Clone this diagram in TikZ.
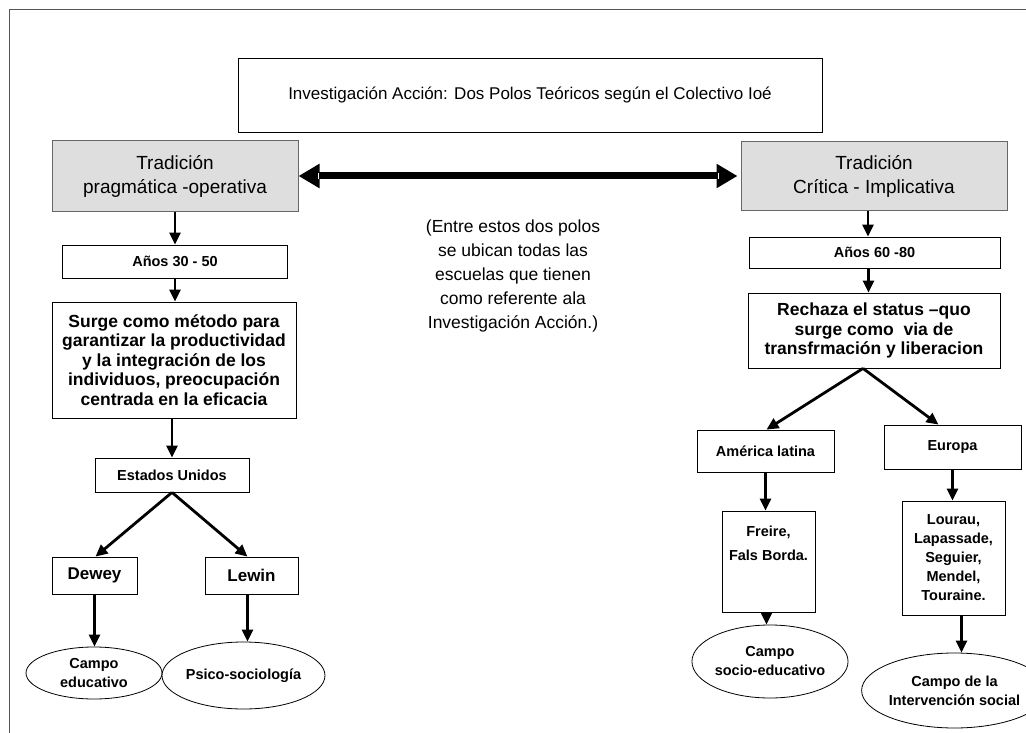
\documentclass[tikz,border=0pt]{standalone}
\usepackage{fontspec}
\setmainfont{Liberation Sans}
\usetikzlibrary{shapes.geometric,arrows.meta}
\definecolor{framegray}{HTML}{555555}
\definecolor{boxgray}{HTML}{DEDEDE}
\definecolor{boxedge}{HTML}{666666}
\tikzset{
  plainbox/.style={draw=black, line width=0.8pt, fill=white, align=center, inner sep=0pt},
  graybox/.style={draw=boxedge, line width=1pt, fill=boxgray, align=center, inner sep=0pt,
    font=\fontsize{19}{24}\selectfont},
  oval/.style={ellipse, draw=black, line width=0.8pt, fill=white, align=center, inner sep=0pt,
    font=\bfseries\fontsize{14.5}{19}\selectfont},
  lab/.style={font=\bfseries\fontsize{14.5}{19}\selectfont},
  big/.style={font=\bfseries\fontsize{17.5}{19.5}\selectfont},
  arr/.style={line width=2.8pt, -{Triangle[length=12pt,width=11pt]}},
  dbl/.style={line width=7pt, {Triangle[length=21pt,width=23pt]}-{Triangle[length=21pt,width=23pt]}}
}
\begin{document}
\begin{tikzpicture}[x=1pt,y=-1pt]
\useasboundingbox (0,0) rectangle (1026,733);
\fill[white] (0,0) rectangle (1026,733);
\draw[framegray, line width=1pt] (9,733) -- (9,10) -- (1026,10);

% title
\node[plainbox, minimum width=584pt, minimum height=74pt, font=\fontsize{17}{20}\selectfont]
  (title) at (530,95) {Investigación Acción: Dos Polos Teóricos según el Colectivo Ioé};

% left column
\node[graybox, minimum width=246pt, minimum height=70pt] (tl) at (175,176)
  {Tradición\\pragmática -operativa};
\node[plainbox, lab, minimum width=225pt, minimum height=33pt] (a1) at (175,261.5) {Años 30 - 50};
\node[plainbox, big, minimum width=244pt, minimum height=116pt] (s1) at (174,360)
  {Surge como método para\\garantizar la productividad\\y la integración de los\\individuos, preocupación\\centrada en la eficacia};
\node[plainbox, lab, minimum width=154pt, minimum height=34pt] (eu) at (172,475) {Estados Unidos};
\node[plainbox, font=\bfseries\fontsize{17}{20}\selectfont, minimum width=85pt, minimum height=37pt] (dw) at (94.5,575.5) {Dewey};
\node[plainbox, font=\bfseries\fontsize{17}{20}\selectfont, minimum width=93pt, minimum height=37pt] (lw) at (251.5,575.5) {Lewin};
\node[oval, minimum width=136pt, minimum height=52pt] (e1) at (94,673) {Campo\\educativo};
\node[oval, minimum width=145pt, minimum height=67pt] (e2) at (243.5,675.5) {Psico-sociología};

% right column
\node[graybox, minimum width=266pt, minimum height=69pt] (tr) at (874,176)
  {Tradición\\Crítica - Implicativa};
\node[plainbox, lab, minimum width=251pt, minimum height=31pt] (a2) at (874.5,252.5) {Años 60 -80};
\node[plainbox, big, minimum width=252pt, minimum height=75pt] (r1) at (874,330.5)
  {Rechaza el status –quo\\surge como\ \ via de\\transfrmación y liberacion};
\node[plainbox, lab, minimum width=137pt, minimum height=42pt] (al) at (765.5,451) {América latina};
\node[plainbox, lab, minimum width=137pt, minimum height=44pt] (eo) at (952.5,447) {Europa};
\node[plainbox, minimum width=93pt, minimum height=101pt] (fr) at (768.5,561.5) {};
\node[align=center, font=\bfseries\fontsize{14.5}{24}\selectfont] (frtext) at (768.5,543)
  {Freire,\\Fals Borda.};
\node[plainbox, lab, minimum width=103pt, minimum height=114pt] (lo) at (953.5,558)
  {Lourau,\\Lapassade,\\Seguier,\\Mendel,\\Touraine.};
\node[oval, minimum width=146pt, minimum height=73pt] (e3) at (770,661.5) {Campo\\socio-educativo};
\node[oval, minimum width=145pt, minimum height=75pt] (e4) at (954.5,690.5) {Campo de la\\Intervención social};

% middle note
\node[align=center, font=\fontsize{17.5}{24.2}\selectfont] (note) at (513,276)
  {(Entre estos dos polos\\se ubican todas las\\escuelas que tienen\\como referente ala\\Investigación Acción.)};

% double arrow
\draw[dbl] (tl.east) -- ([xshift=-3pt]tr.west);
\draw[white, line width=1.5pt] ([xshift=20pt,yshift=-3pt]tl.east) -- ([xshift=20pt,yshift=3pt]tl.east);
\draw[white, line width=1.5pt] ([xshift=-22pt,yshift=-3pt]tr.west) -- ([xshift=-22pt,yshift=3pt]tr.west);

% left arrows
\draw[arr] (tl.south) -- (tl.south |- a1.north);
\draw[arr] (a1.south) -- (a1.south |- s1.north);
\draw[arr] (s1.south -| eu.north) -- (eu.north);
\draw[arr] (eu.south) -- ([xshift=1pt]dw.north);
\draw[arr] (eu.south) -- ([xshift=-4pt]lw.north);
\draw[arr] (dw.south) -- (dw.south |- e1.north);
\draw[arr] ([xshift=-4pt]lw.south) -- ([xshift=-4pt]lw.south |- e2.north);

% right arrows
\draw[arr] ([xshift=-6pt]tr.south) -- ([xshift=-6pt]tr.south |- a2.north);
\draw[arr] ([xshift=-6pt]a2.south) -- ([xshift=-6pt]a2.south |- r1.north);
\draw[arr] ([xshift=-11pt]r1.south) -- ([xshift=1pt]al.north);
\draw[arr] ([xshift=-11pt]r1.south) -- ([xshift=-14pt]eo.north);
\draw[arr] (al.south) -- (al.south |- fr.north);
\draw[arr] ([xshift=-2pt]fr.south) -- ([xshift=-2pt]fr.south |- e3.north);
\draw[arr] (eo.south) -- (eo.south |- lo.north);
\draw[arr] ([xshift=8pt]lo.south) -- ([xshift=8pt]lo.south |- e4.north);
\end{tikzpicture}
\end{document}
